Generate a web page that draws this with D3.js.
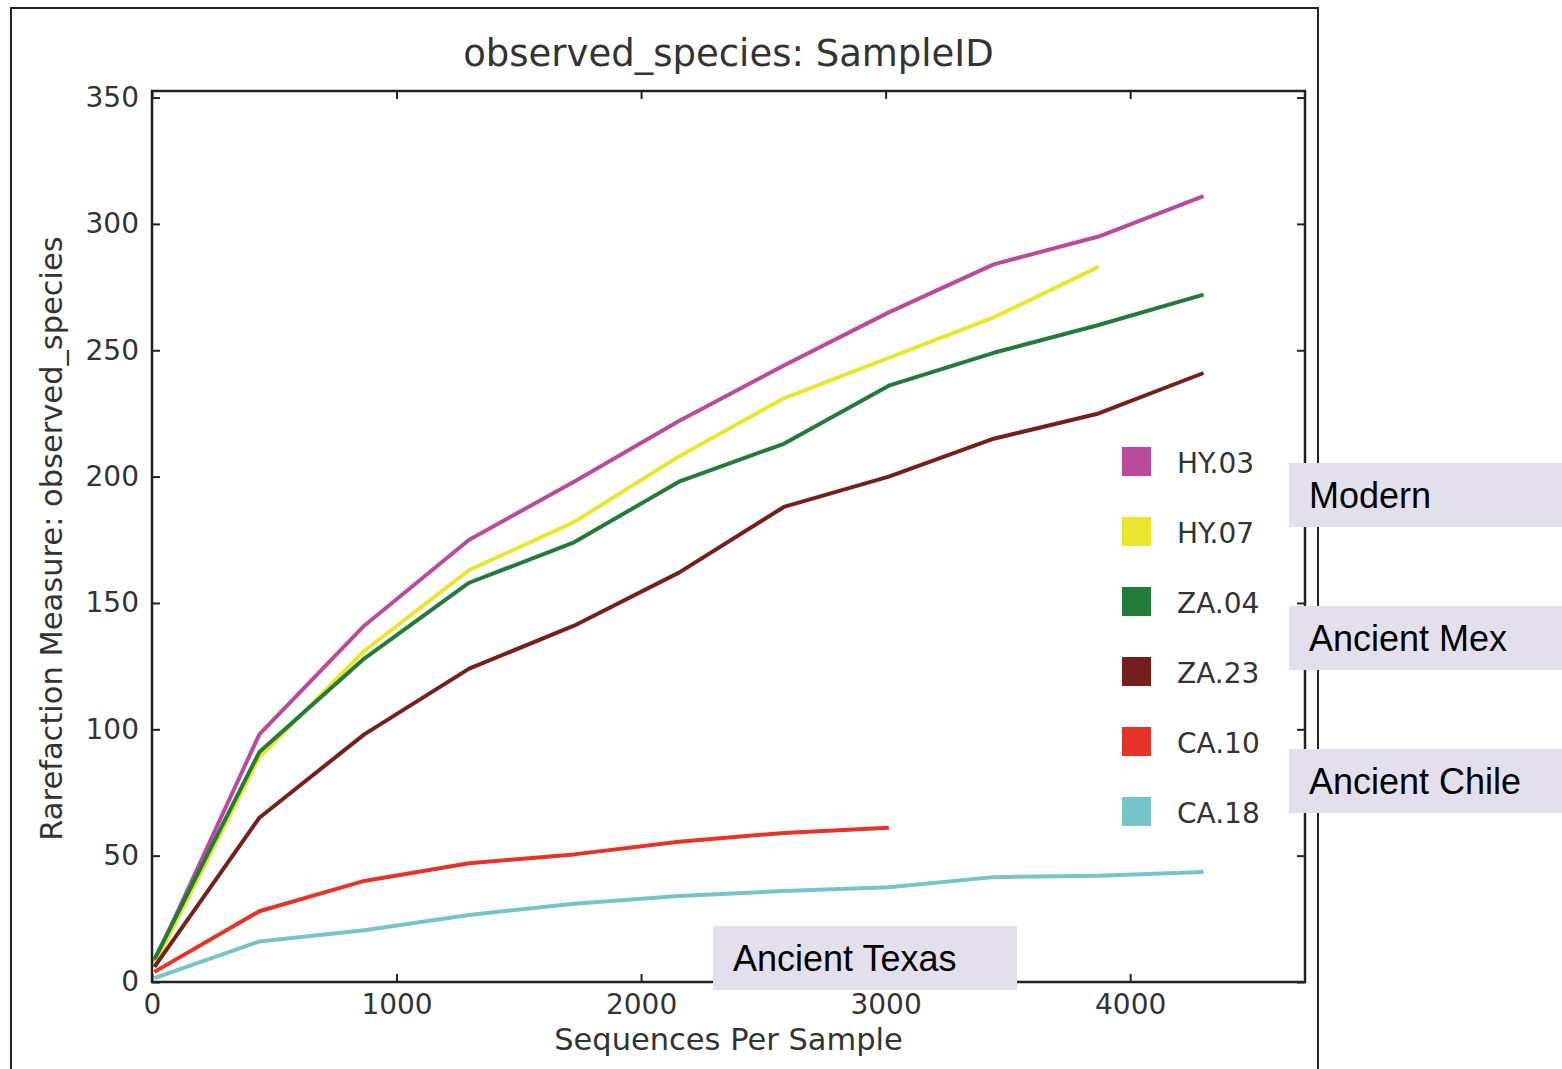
<!DOCTYPE html>
<html>
<head>
<meta charset="utf-8">
<script src="https://cdn.jsdelivr.net/npm/d3@7"></script>
<style>
  body { margin: 0; background: #fff; }
  svg text { font-family: "DejaVu Sans", sans-serif; fill: #333; }
</style>
</head>
<body>
<div id="chart"></div>
<script>
// rarefaction depths (sequences per sample)
const depths = [10, 439, 868, 1297, 1726, 2155, 2584, 3013, 3442, 3871, 4300];

// observed species per sample
const hy03 = [8, 98, 141, 175, 198, 222, 244, 265, 284, 295, 311];
const hy07 = [7, 89, 131, 163, 182, 208, 231, 247, 263, 283];
const za04 = [9, 91, 128, 158, 174, 198, 213, 236, 249, 260, 272];
const za23 = [6, 65, 98, 124, 141, 162, 188, 200, 215, 225, 241];
const ca10 = [4, 28, 40, 47, 50.5, 55.5, 59, 61];
const ca18 = [1.5, 16, 20.5, 26.5, 31, 34, 36, 37.5, 41.5, 42, 43.5];

const sampleNames = ["HY.03", "HY.07", "ZA.04", "ZA.23", "CA.10", "CA.18"];
const sampleColors = ["#bb4a9f", "#ebe52e", "#237b3a", "#771f1c", "#e53328", "#74c4ca"];

const xTicks = [0, 1000, 2000, 3000, 4000];
const yTicks = [0, 50, 100, 150, 200, 250, 300, 350];

// group labels laid over the figure
const groupNames = ["Modern", "Ancient Mex", "Ancient Chile", "Ancient Texas"];

const series = [hy03, hy07, za04, za23, ca10, ca18].map((vals, i) => ({
    name: sampleNames[i],
    color: sampleColors[i],
    points: vals.map((v, j) => ({ x: depths[j], y: v }))
}));

const width = 1562;
const height = 1069;

const svg = d3.select("#chart")
    .append("svg")
    .attr("width", width)
    .attr("height", height);

// figure frame (runs off the bottom of the picture)
svg.append("rect")
    .attr("x", 11).attr("y", 8)
    .attr("width", 1307).attr("height", 1100)
    .attr("fill", "#fff")
    .attr("stroke", "#222")
    .attr("stroke-width", 2);

const plot = { left: 152, right: 1305, top: 91, bottom: 982 };

const x = d3.scaleLinear().domain([0, 4715]).range([plot.left, plot.right]);
const y = d3.scaleLinear().domain([0, 352.6]).range([plot.bottom, plot.top]);

// title
svg.append("text")
    .attr("x", (plot.left + plot.right) / 2)
    .attr("y", 66)
    .attr("text-anchor", "middle")
    .attr("font-size", 37)
    .text("observed_species: SampleID");

// lines
const line = d3.line().x(d => x(d.x)).y(d => y(d.y));

svg.append("g")
    .selectAll("path")
    .data(series)
    .join("path")
    .attr("d", d => line(d.points))
    .attr("fill", "none")
    .attr("stroke", d => d.color)
    .attr("stroke-width", 4)
    .attr("stroke-linejoin", "round");

// axes: ticks point inwards on every side, like the old matplotlib style
const styleAxis = g => {
    g.select(".domain").remove();
    g.selectAll(".tick line").attr("stroke", "#222").attr("stroke-width", 2);
    g.selectAll(".tick text").attr("fill", "#333").attr("font-family", "DejaVu Sans");
};

svg.append("g")
    .attr("transform", `translate(0, ${plot.bottom})`)
    .call(d3.axisBottom(x).tickValues(xTicks).tickSize(-8).tickPadding(12).tickFormat(d3.format("d")))
    .attr("font-size", 28)
    .call(styleAxis);

svg.append("g")
    .attr("transform", `translate(0, ${plot.top})`)
    .call(d3.axisTop(x).tickValues(xTicks).tickSize(-8).tickFormat(""))
    .call(styleAxis);

svg.append("g")
    .attr("transform", `translate(${plot.left}, 0)`)
    .call(d3.axisLeft(y).tickValues(yTicks).tickSize(-8).tickPadding(13).tickFormat(d3.format("d")))
    .attr("font-size", 28)
    .call(styleAxis);

svg.append("g")
    .attr("transform", `translate(${plot.right}, 0)`)
    .call(d3.axisRight(y).tickValues(yTicks).tickSize(-8).tickFormat(""))
    .call(styleAxis);

// plot border
svg.append("rect")
    .attr("x", plot.left).attr("y", plot.top)
    .attr("width", plot.right - plot.left)
    .attr("height", plot.bottom - plot.top)
    .attr("fill", "none")
    .attr("stroke", "#222")
    .attr("stroke-width", 2.5);

// axis titles
svg.append("text")
    .attr("x", (plot.left + plot.right) / 2)
    .attr("y", 1050)
    .attr("text-anchor", "middle")
    .attr("font-size", 30.5)
    .text("Sequences Per Sample");

svg.append("text")
    .attr("transform", `translate(62, ${(plot.top + plot.bottom) / 2 + 2}) rotate(-90)`)
    .attr("text-anchor", "middle")
    .attr("font-size", 30.5)
    .text("Rarefaction Measure: observed_species");

// legend
const legend = svg.append("g")
    .attr("transform", "translate(1122, 447)");

const legendItems = legend.selectAll("g")
    .data(series)
    .join("g")
    .attr("transform", (d, i) => `translate(0, ${i * 70})`);

legendItems.append("rect")
    .attr("width", 29).attr("height", 29)
    .attr("fill", d => d.color);

legendItems.append("text")
    .attr("x", 55)
    .attr("y", 26)
    .attr("font-size", 28)
    .text(d => d.name);

// group boxes
const boxes = [
    { x: 1289, y: 463, w: 280 },
    { x: 1289, y: 606, w: 280 },
    { x: 1289, y: 749, w: 280 },
    { x: 713, y: 926, w: 304 }
];

const groups = svg.append("g")
    .selectAll("g")
    .data(groupNames)
    .join("g")
    .attr("transform", (d, i) => `translate(${boxes[i].x}, ${boxes[i].y})`);

groups.append("rect")
    .attr("width", (d, i) => boxes[i].w)
    .attr("height", 64)
    .attr("fill", "#e3dfec");

groups.append("text")
    .attr("x", 20)
    .attr("y", 45)
    .attr("font-size", 36)
    .style("font-family", "'Liberation Sans', Arial, sans-serif")
    .style("fill", "#000")
    .text(d => d);
</script>
</body>
</html>
